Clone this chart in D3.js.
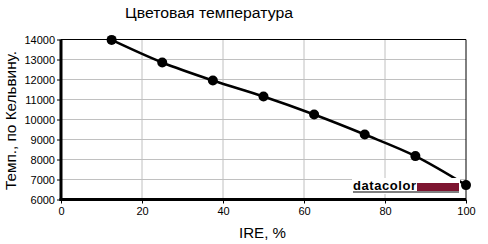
<!DOCTYPE html>
<html>
<head>
<meta charset="utf-8">
<script src="https://cdn.jsdelivr.net/npm/d3@7"></script>
<style>
  body { margin: 0; background: #fff; }
  text { font-family: Arial, "Liberation Sans", sans-serif; }
</style>
</head>
<body>
<svg id="chart" width="488" height="244"></svg>
<script>
const ire = [12.5, 25, 37.5, 50, 62.5, 75, 87.5, 100];
const kelvin = [13980, 12850, 11950, 11150, 10250, 9250, 8170, 6720];
const xTicks = [0, 20, 40, 60, 80, 100];
const yTicks = [6000, 7000, 8000, 9000, 10000, 11000, 12000, 13000, 14000];

const svg = d3.select('#chart');
const pLeft = 61, pRight = 466, pTop = 39.5, pBottom = 199.5;

const x = d3.scaleLinear().domain([0, 100]).range([pLeft, pRight]);
const y = d3.scaleLinear().domain([6000, 14000]).range([pBottom, pTop]);

// grid
svg.append('g').selectAll('line').data(xTicks.slice(1, -1)).join('line')
    .attr('x1', d => x(d)).attr('x2', d => x(d))
    .attr('y1', pTop).attr('y2', pBottom)
    .attr('stroke', '#c0c0c0').attr('stroke-width', 1);
svg.append('g').selectAll('line').data(yTicks.slice(1, -1)).join('line')
    .attr('x1', pLeft).attr('x2', pRight)
    .attr('y1', d => y(d)).attr('y2', d => y(d))
    .attr('stroke', '#c0c0c0').attr('stroke-width', 1);

// frame top/right
svg.append('path')
    .attr('d', `M${pLeft},${pTop}H${pRight}V${pBottom}`)
    .attr('fill', 'none').attr('stroke', '#000').attr('stroke-width', 1);

// axes
const yAxis = svg.append('g').attr('transform', `translate(${pLeft},0)`)
    .call(d3.axisLeft(y).tickValues(yTicks).tickSize(4).tickPadding(2).tickFormat(d3.format('d')));
const xAxis = svg.append('g').attr('transform', `translate(0,${pBottom})`)
    .call(d3.axisBottom(x).tickValues(xTicks).tickSize(4).tickPadding(4));
[yAxis, xAxis].forEach(a => {
    a.select('.domain').remove();
    a.selectAll('text').attr('font-size', 11).attr('fill', '#000')
        .attr('font-family', 'Arial, "Liberation Sans", sans-serif');
    a.selectAll('line').attr('stroke', '#000');
});
svg.append('line').attr('x1', pLeft).attr('x2', pLeft).attr('y1', pTop).attr('y2', pBottom + 1.5)
    .attr('stroke', '#000').attr('stroke-width', 3);
svg.append('line').attr('x1', pLeft - 1.5).attr('x2', pRight).attr('y1', pBottom).attr('y2', pBottom)
    .attr('stroke', '#000').attr('stroke-width', 3);

// series
const pts = ire.map((d, i) => [d, kelvin[i]]);
svg.append('path')
    .attr('d', d3.line().x(d => x(d[0])).y(d => y(d[1])).curve(d3.curveCatmullRom)(pts))
    .attr('fill', 'none').attr('stroke', '#000').attr('stroke-width', 2.5);

// logo
const logo = svg.append('g');
logo.append('rect').attr('x', 352).attr('y', 178).attr('width', 108).attr('height', 16).attr('fill', '#fff');
logo.append('text').attr('x', 353).attr('y', 190)
    .attr('font-size', 13).attr('font-weight', 'bold').attr('fill', '#000')
    .attr('font-family', 'Verdana, "DejaVu Sans", sans-serif').attr('textLength', 63)
    .text('datacolor');
logo.append('rect').attr('x', 417).attr('y', 183).attr('width', 42).attr('height', 8).attr('fill', '#7d1530');
logo.append('line').attr('x1', 353).attr('x2', 459).attr('y1', 192).attr('y2', 192)
    .attr('stroke', '#000').attr('stroke-width', 1);

svg.append('g').selectAll('circle').data(pts).join('circle')
    .attr('cx', d => x(d[0])).attr('cy', d => y(d[1])).attr('r', 5)
    .attr('fill', '#000');

// titles
svg.append('text').attr('x', 209).attr('y', 18).attr('text-anchor', 'middle')
    .attr('font-size', 15.5).attr('textLength', 168).attr('lengthAdjust', 'spacingAndGlyphs')
    .text('Цветовая температура');
svg.append('text').attr('x', 262.5).attr('y', 238).attr('text-anchor', 'middle')
    .attr('font-size', 15).attr('textLength', 47).attr('lengthAdjust', 'spacingAndGlyphs')
    .text('IRE, %');
svg.append('text').attr('transform', 'translate(16,120.5) rotate(-90)').attr('text-anchor', 'middle')
    .attr('font-size', 15).attr('textLength', 139).attr('lengthAdjust', 'spacingAndGlyphs')
    .text('Темп., по Кельвину.');
</script>
</body>
</html>
